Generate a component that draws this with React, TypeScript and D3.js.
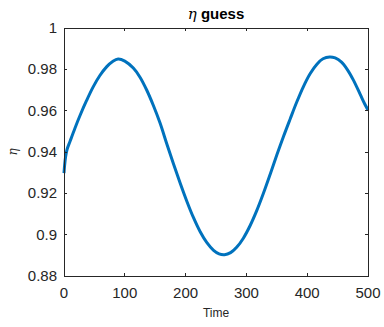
import React from "react";
import * as d3 from "d3";

const timeValues = [0, 1, 2.5, 5, 10, 18, 26, 37, 48, 59, 70, 80, 89, 100, 114, 125, 136, 147, 158, 169, 180, 191, 202, 213, 224, 235, 246, 255, 264, 274, 284, 295, 306, 317, 328, 339, 350, 361, 372, 383, 394, 405, 416, 426, 437, 446, 456, 466, 476, 487, 494, 500];
const etaValues = [0.9298, 0.9335, 0.9375, 0.9412, 0.9452, 0.9515, 0.9574, 0.9648, 0.9715, 0.9770, 0.9812, 0.9838, 0.9850, 0.9840, 0.9806, 0.9762, 0.9700, 0.9625, 0.9540, 0.9440, 0.9343, 0.9250, 0.9162, 0.9082, 0.9014, 0.8961, 0.8924, 0.8907, 0.8903, 0.8913, 0.8939, 0.8983, 0.9043, 0.9116, 0.9200, 0.9291, 0.9385, 0.9475, 0.9560, 0.9643, 0.9718, 0.9780, 0.9825, 0.9851, 0.9860, 0.9855, 0.9836, 0.9799, 0.9748, 0.9680, 0.9636, 0.9603];
const xTicks = [0, 100, 200, 300, 400, 500];
const yTicks = [0.88, 0.9, 0.92, 0.94, 0.96, 0.98, 1];

export default function App() {
  const W = 384, H = 327;
  const left = 64, right = 368, top = 28, bottom = 276;
  const x = d3.scaleLinear().domain([0, 500]).range([left, right]);
  const y = d3.scaleLinear().domain([0.88, 1]).range([bottom, top]);
  const pts = timeValues.map((t, i) => [t, etaValues[i]] as [number, number]);
  const line = d3.line<[number, number]>().x(d => x(d[0])).y(d => y(d[1])).curve(d3.curveCatmullRom.alpha(0.5));
  const axisColor = "#262626";
  const font = "Liberation Sans, Arial, Helvetica, sans-serif";
  const tl = 3;
  return (
    <svg width={W} height={H} style={{ position: "absolute", left: 0, top: 0, background: "#fff" }}>
      <rect x={0} y={0} width={W} height={H} fill="#fff" />
      <path d={line(pts) || ""} fill="none" stroke="#0072BD" strokeWidth={3} strokeLinejoin="round" strokeLinecap="butt" />
      <rect x={left} y={top} width={right - left} height={bottom - top} fill="none" stroke={axisColor} strokeWidth={1} shapeRendering="crispEdges" />
      {xTicks.map(t => (
        <g key={"x" + t}>
          <line x1={x(t)} x2={x(t)} y1={bottom} y2={bottom - tl} stroke={axisColor} shapeRendering="crispEdges" />
          <line x1={x(t)} x2={x(t)} y1={top} y2={top + tl} stroke={axisColor} shapeRendering="crispEdges" />
          <text x={x(t)} y={bottom + 22} textAnchor="middle" fontFamily={font} fontSize={15} fill={axisColor}>{t}</text>
        </g>
      ))}
      {yTicks.map(v => (
        <g key={"y" + v}>
          <line x1={left} x2={left + tl} y1={y(v)} y2={y(v)} stroke={axisColor} shapeRendering="crispEdges" />
          <line x1={right} x2={right - tl} y1={y(v)} y2={y(v)} stroke={axisColor} shapeRendering="crispEdges" />
          <text x={left - 7} y={y(v) + 5} textAnchor="end" fontFamily={font} fontSize={15} fill={axisColor}>{String(v)}</text>
        </g>
      ))}
      <text x={(left + right) / 2} y={317} textAnchor="middle" fontFamily={font} fontSize={12} fill={axisColor}>Time</text>
      <text transform={`translate(17,${(top + bottom) / 2}) rotate(-90)`} textAnchor="middle" fontFamily="DejaVu Serif, serif" fontStyle="italic" fontSize={12} fill={axisColor}>η</text>
      <text x={(left + right) / 2} y={19} textAnchor="middle" fontFamily={font} fontSize={15} fontWeight="bold" fill="#000">
        <tspan fontFamily="DejaVu Serif, serif" fontStyle="italic" fontWeight="normal">η</tspan> guess
      </text>
    </svg>
  );
}
